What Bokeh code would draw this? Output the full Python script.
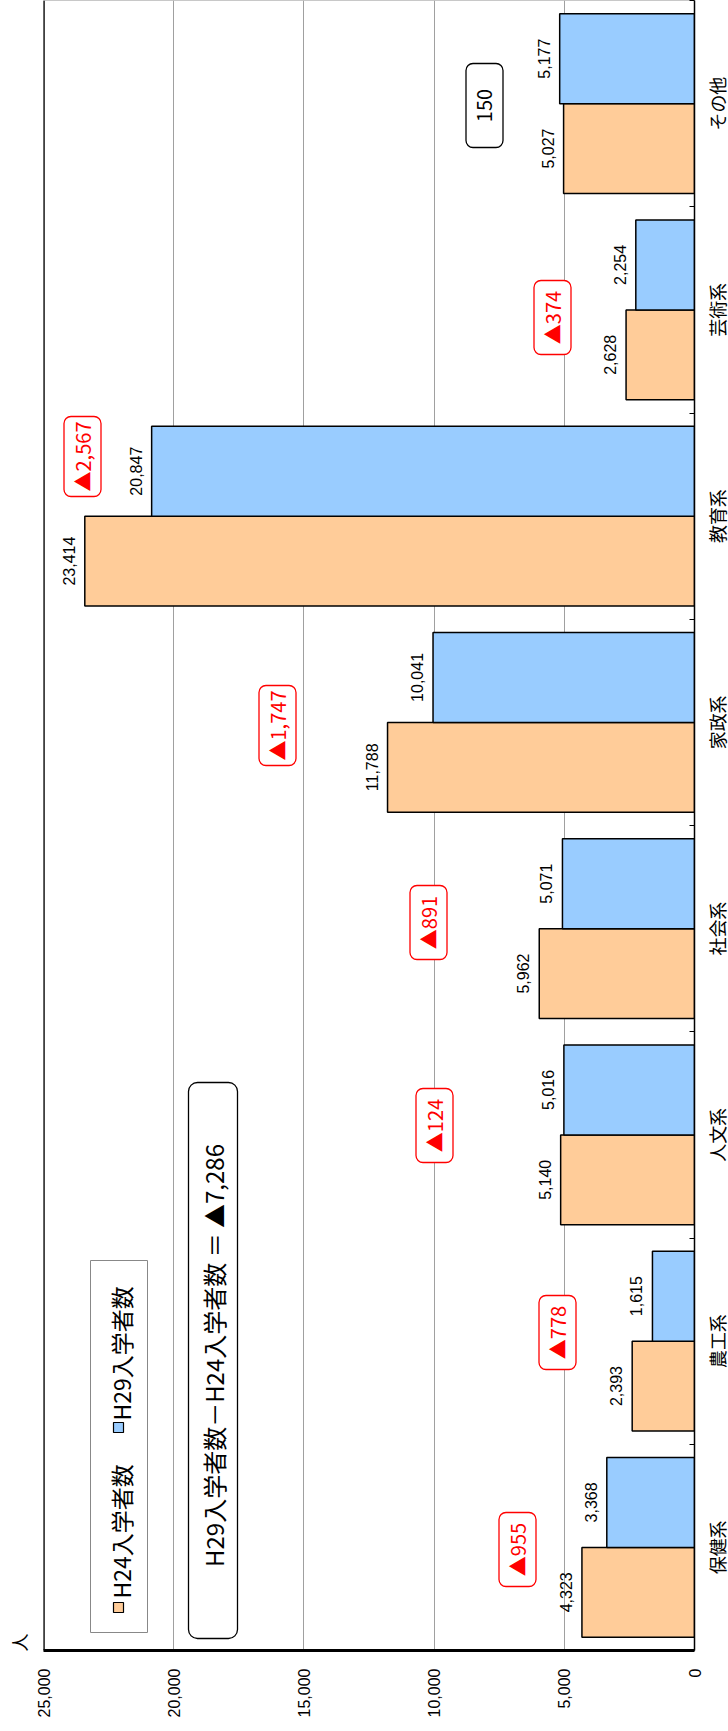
import math
from bokeh.plotting import figure
from bokeh.models import (Range1d, LinearAxis, FixedTicker, NumeralTickFormatter,
                          CustomJSTickFormatter, Span)
from bokeh.core.properties import value
from bokeh.embed import file_html
from bokeh.resources import INLINE

# ---------------- data ----------------
categories = ["保健系", "農工系", "人文系", "社会系", "家政系", "教育系", "芸術系", "その他"]
h24_values = [4323, 2393, 5140, 5962, 11788, 23414, 2628, 5027]
h29_values = [3368, 1615, 5016, 5071, 10041, 20847, 2254, 5177]
diff_labels = ["▲955", "▲778", "▲124", "▲891", "▲1,747", "▲2,567", "▲374", "150"]
value_ticks = [0, 5000, 10000, 15000, 20000, 25000]
series_names = ["H24入学者数", "H29入学者数"]
formula_text = "H29入学者数－H24入学者数 ＝ ▲7,286"
unit_label = "人"

# ---------------- layout helpers (page px -> data) ----------------
FRAME_L, FRAME_R, FRAME_B = 43, 694, 1650
PX_PER_5000 = (FRAME_R - FRAME_L) / 5.0
PX_PER_CAT = 206.25


def px2x(px):
    return (FRAME_R - px) / PX_PER_5000 * 5000.0


def py2y(py):
    return (FRAME_B - py) / PX_PER_CAT


JP = value("Noto Sans CJK JP")
NUM = value("Liberation Sans")
ROT = math.pi / 2

p = figure(frame_width=FRAME_R - FRAME_L, frame_height=FRAME_B,
           x_range=Range1d(25000, 0), y_range=Range1d(0, py2y(0)),
           output_backend="svg", toolbar_location=None,
           y_axis_location=None,
           min_border_left=FRAME_L, min_border_right=728 - FRAME_R,
           min_border_top=0, min_border_bottom=40)
p.background_fill_color = "white"
p.border_fill_color = "white"
p.outline_line_color = "#c8c8c8"

# grid
p.xgrid.ticker = FixedTicker(ticks=value_ticks)
p.xgrid.grid_line_color = "#a0a0a0"
p.xgrid.grid_line_width = 1
p.ygrid.grid_line_color = None

# bottom value axis
xa = p.xaxis[0]
xa.ticker = FixedTicker(ticks=value_ticks)
xa.formatter = NumeralTickFormatter(format="0,0")
xa.major_label_orientation = ROT
xa.major_label_standoff = 18
xa.major_tick_in = 0
xa.major_tick_out = 0
xa.minor_tick_line_color = None
xa.axis_line_color = "black"
xa.axis_line_width = 3
xa.major_label_text_font = "Liberation Sans"
xa.major_label_text_font_size = "16px"
xa.major_label_text_color = "black"

# right category axis (ticks at band boundaries only)
ra = LinearAxis(ticker=FixedTicker(ticks=list(range(len(categories) + 1))),
                formatter=CustomJSTickFormatter(code="return ''"),
                major_tick_in=5, major_tick_out=0,
                minor_tick_line_color=None,
                axis_line_color="black", axis_line_width=1.5,
                major_tick_line_color="black",
                major_label_text_font_size="1px")
p.add_layout(ra, "right")

# left frame line (25,000)
p.add_layout(Span(location=25000, dimension="height", line_color="black", line_width=2.5))

# bars
idx = list(range(len(categories)))
off = 0.218
y24 = [i + 0.5 - off for i in idx]
y29 = [i + 0.5 + off for i in idx]
p.hbar(y=y24, left=0, right=h24_values, height=0.436,
       fill_color="#FFCC99", line_color="black", line_width=1.5)
p.hbar(y=y29, left=0, right=h29_values, height=0.436,
       fill_color="#99CCFF", line_color="black", line_width=1.5)

# value labels
for vals, ys in ((h24_values, y24), (h29_values, y29)):
    p.text(x=vals, y=ys, text=[f"{v:,}" for v in vals], angle=ROT,
           x_offset=-16, text_align="center", text_baseline="middle",
           text_font=NUM, text_font_size="16px", text_color="black")

# difference boxes (centre x px, centre y px, box length px)
box_px = [(517, 1549, 74), (557, 1332, 74), (434, 1125, 74), (428, 922, 74),
          (277, 725, 80), (82, 456, 80), (552, 317, 74), (484, 105, 84)]
bx = [px2x(b[0]) for b in box_px]
by = [py2y(b[1]) for b in box_px]
bh = [b[2] for b in box_px]
bcol = ["red"] * 7 + ["black"]
p.rect(x=bx, y=by, width=37, height=bh, width_units="screen", height_units="screen",
       fill_color="white", line_color=bcol, line_width=1.3, border_radius=7)
p.text(x=bx, y=by, text=diff_labels, angle=ROT, text_align="center",
       text_baseline="middle", text_font=JP, text_font_size="20px", text_color=bcol)

# formula box
p.rect(x=[px2x(212.5)], y=[py2y(1360)], width=49, height=556,
       width_units="screen", height_units="screen",
       fill_color="white", line_color="black", line_width=1.3, border_radius=9)
p.text(x=[px2x(213)], y=[py2y(1355)], text=[formula_text], angle=ROT,
       text_align="center", text_baseline="middle", text_font=JP,
       text_font_size="24px", text_color="black")

# legend
p.rect(x=[px2x(118.5)], y=[py2y(1446)], width=57, height=372,
       width_units="screen", height_units="screen",
       fill_color="white", line_color="#888888", line_width=1)
p.scatter(x=[px2x(118), px2x(118)], y=[py2y(1607), py2y(1427)], marker="square",
          size=10, fill_color=["#FFCC99", "#99CCFF"], line_color="black", line_width=1.2)
p.text(x=[px2x(120), px2x(120)], y=[py2y(1598), py2y(1420)], text=series_names,
       angle=ROT, text_align="left", text_baseline="middle", text_font=JP,
       text_font_size="23px", text_color="black")

# category labels (outside the frame)
cr = p.text(x=[px2x(716)] * len(categories), y=[i + 0.5 for i in idx], text=categories,
            angle=ROT, text_align="center", text_baseline="middle", text_font=JP,
            text_font_size="18px", text_color="black")
cr.level = "overlay"

# unit label
ur = p.text(x=[px2x(18)], y=[py2y(1642)], text=[unit_label], angle=ROT,
            text_align="center", text_baseline="middle", text_font=JP,
            text_font_size="18px", text_color="black")
ur.level = "overlay"

open("out.html", "w").write(file_html(p, INLINE))
